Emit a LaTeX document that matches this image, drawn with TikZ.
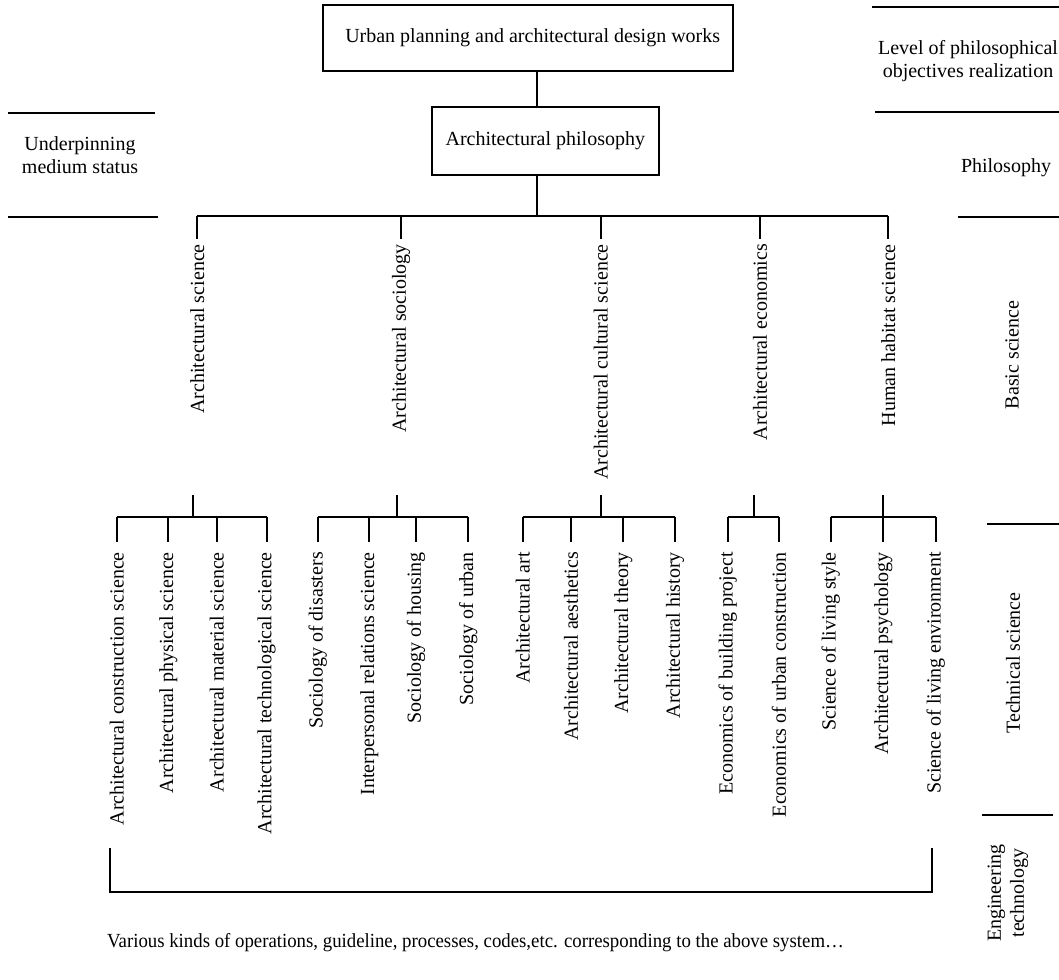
\documentclass[tikz,border=0pt]{standalone}
\usepackage{graphicx}
\usepackage{fontspec}
\setmainfont{Liberation Serif}
\begin{document}
\begin{tikzpicture}[x=1pt,y=-1pt,
  every node/.style={font=\fontsize{20}{23}\selectfont},
  box/.style={draw, line width=2pt, inner sep=0pt},
  vlabel/.style={rotate=90, anchor=east, inner xsep=5pt, inner ysep=0pt},
  leaf/.style={rotate=90, anchor=east, inner xsep=10pt, inner ysep=0pt},
  tree/.style={line width=2pt},
  rulerline/.style={line width=2pt},
  side/.style={align=center, inner sep=0pt}]
\useasboundingbox (0,0) rectangle (1059,979);

% top boxes
\node[box, minimum width=410pt, minimum height=66pt] (works) at (527.7,38) {\hspace{10pt}Urban planning and architectural design works};
\node[box, minimum width=227pt, minimum height=68pt] (phil) at (545.3,141) {Architectural philosophy\hspace{8pt}};

\coordinate (sp) at (537,0);
\coordinate (hub) at (537,215.5);
\draw[tree] (works.south -| sp) -- (phil.north -| sp);
\draw[tree] (phil.south -| sp) -- (hub);

% main bar
\coordinate (b1) at (197.3,215.5);
\coordinate (b2) at (401,215.5);
\coordinate (b3) at (600.7,215.5);
\coordinate (b4) at (760,215.5);
\coordinate (b5) at (888.3,215.5);
\draw[tree] (b1) -- (b5);

% basic science labels
\node[vlabel] (m1) at (197.3,239) {Architectural science};
\node[vlabel] (m2) at (401,239) {Architectural sociology};
\node[vlabel] (m3) at (600.7,239) {Architectural cultural science};
\node[vlabel] (m4) at (760,239) {Architectural economics};
\node[vlabel] (m5) at (888.3,239) {Human habitat science};
\foreach \i in {1,...,5} \draw[tree] (b\i) -- (m\i.east);

% leaves
\node[leaf] (l1) at (116.7,542) {Architectural construction science};
\node[leaf] (l2) at (168.3,542) {Architectural physical science};
\node[leaf] (l3) at (216.7,542) {Architectural material science};
\node[leaf] (l4) at (266.7,542) {Architectural technological science};
\node[leaf] (l5) at (317.7,542) {Sociology of disasters};
\node[leaf] (l6) at (369.3,542) {Interpersonal relations science};
\node[leaf] (l7) at (416,542) {Sociology of housing};
\node[leaf] (l8) at (468.3,542) {Sociology of urban};
\node[leaf] (l9) at (522.7,542) {Architectural art};
\node[leaf] (l10) at (571,542) {Architectural aesthetics};
\node[leaf] (l11) at (623.3,542) {Architectural theory};
\node[leaf] (l12) at (675,542) {Architectural history};
\node[leaf] (l13) at (727.7,542) {Economics of building project};
\node[leaf] (l14) at (779,542) {Economics of urban construction};
\node[leaf] (l15) at (830.7,542) {Science of living style};
\node[leaf] (l16) at (883.3,542) {Architectural psychology};
\node[leaf] (l17) at (935.7,542) {Science of living environment};

% group junctions
\coordinate (g1t) at (192.7,495);  \coordinate (g1) at (192.7,516.7);
\coordinate (g2t) at (397.3,495);  \coordinate (g2) at (397.3,516.7);
\coordinate (g3t) at (600.7,495);  \coordinate (g3) at (600.7,516.7);
\coordinate (g4t) at (754,495);    \coordinate (g4) at (754,516.7);
\coordinate (g5t) at (883.3,495);  \coordinate (g5) at (883.3,516.7);
\foreach \i in {1,...,5} \draw[tree] (g\i t) -- (g\i);

\draw[tree] (l1.east |- g1) -- (l4.east |- g1);
\draw[tree] (l5.east |- g2) -- (l8.east |- g2);
\draw[tree] (l9.east |- g3) -- (l12.east |- g3);
\draw[tree] (l13.east |- g4) -- (l14.east |- g4);
\draw[tree] (l15.east |- g5) -- (l17.east |- g5);
\foreach \i in {1,...,4} \draw[tree] (l\i.east |- g1) -- (l\i.east);
\foreach \i in {5,...,8} \draw[tree] (l\i.east |- g2) -- (l\i.east);
\foreach \i in {9,...,12} \draw[tree] (l\i.east |- g3) -- (l\i.east);
\foreach \i in {13,14} \draw[tree] (l\i.east |- g4) -- (l\i.east);
\foreach \i in {15,16,17} \draw[tree] (l\i.east |- g5) -- (l\i.east);

% bottom bracket
\coordinate (k1) at (110,848);
\coordinate (k2) at (110,891.7);
\coordinate (k3) at (931.7,891.7);
\coordinate (k4) at (931.7,848);
\draw[tree] (k1) -- (k2) -- (k3) -- (k4);
\node[anchor=base west, inner sep=0pt] (ops) at (107,947) {\scalebox{0.94}[1]{Various kinds of operations, guideline, processes, codes,etc. corresponding to the above system…}};

% left side
\draw[rulerline] (8,113) -- (155,113);
\node[side] (under) at (80,155) {Underpinning\\medium status};
\draw[rulerline] (8,217) -- (158,217);

% right side
\draw[rulerline] (872,6.7) -- (1059,6.7);
\node[side] (level) at (968,61) {Level of philosophical\\objectives realization};
\draw[rulerline] (875,111.7) -- (1059,111.7);
\node[side] (philo) at (1006,168) {Philosophy};
\draw[rulerline] (958,217) -- (1059,217);
\node[side, rotate=90] (basic) at (1012,355) {Basic science};
\draw[rulerline] (987,524) -- (1059,524);
\node[side, rotate=90] (tech) at (1013,663) {Technical science};
\draw[rulerline] (982,815) -- (1053,815);
\node[side, rotate=90] (eng) at (1008,893) {Engineering\\technology};
\end{tikzpicture}
\end{document}
